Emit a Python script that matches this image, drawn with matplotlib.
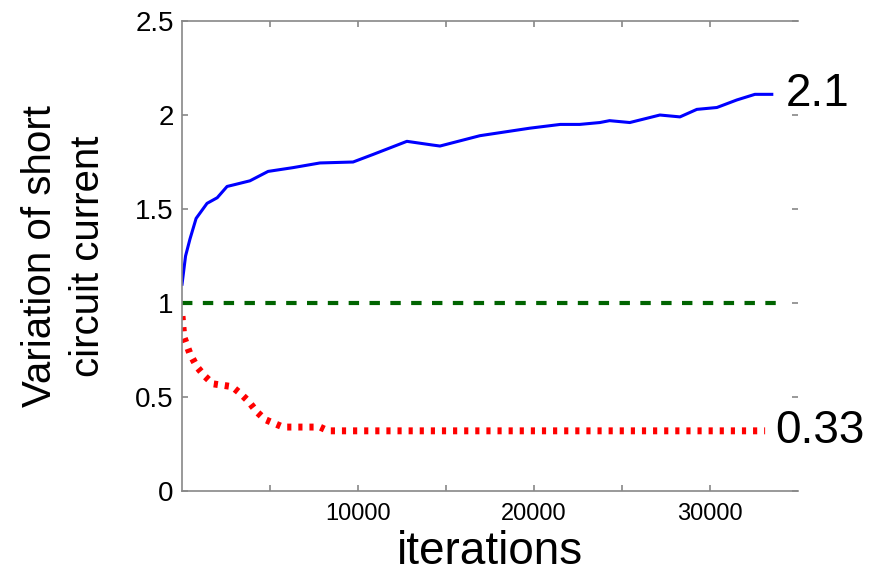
import numpy as np
import matplotlib
matplotlib.use('Agg')
import matplotlib.pyplot as plt

plt.rcParams['font.family'] = ['Liberation Sans', 'DejaVu Sans']

blue_x = [0, 200, 450, 800, 1420, 2000, 2560, 3000, 3860, 4890, 6300, 7840, 9720,
          10850, 12780, 14260, 14660, 16930, 19770, 21500, 22600, 23750, 24300,
          25450, 27160, 28300, 29260, 30400, 31530, 32560, 33520]
blue_y = [1.10, 1.25, 1.34, 1.45, 1.53, 1.56, 1.62, 1.63, 1.65, 1.70, 1.72, 1.745, 1.75,
          1.79, 1.86, 1.84, 1.835, 1.89, 1.93, 1.95, 1.95, 1.96, 1.97,
          1.96, 2.00, 1.99, 2.03, 2.04, 2.08, 2.11, 2.11]

red_x = [0, 100, 450, 850, 1300, 1760, 2840, 3300, 3750, 4260, 4720, 5740, 7840, 8300, 33140]
red_y = [0.93, 0.82, 0.73, 0.66, 0.61, 0.57, 0.555, 0.52, 0.48, 0.42, 0.38, 0.34, 0.34, 0.32, 0.32]

ref_x = [0, 33800]
ref_y = [1.0, 1.0]

fig = plt.figure(figsize=(8.71, 5.76), dpi=100)
ax = fig.add_axes([0.209, 0.1476, 0.707, 0.8159])

ax.plot(blue_x, blue_y, color='#0000ff', lw=2.2)
ax.plot(ref_x, ref_y, color='#006400', lw=3, linestyle=(0, (2.5, 2.5)))
ax.plot(red_x, red_y, color='#ff0000', lw=5, linestyle=(0, (0.6, 1.0)))

ax.set_xlim(0, 35000)
ax.set_ylim(0, 2.5)
ax.set_xticks(np.arange(5000, 35000, 5000))
ax.set_xticklabels(['' if t % 10000 else str(t) for t in range(5000, 35000, 5000)])
ax.set_yticks([0, 0.5, 1, 1.5, 2, 2.5])
ax.set_yticklabels(['0', '0.5', '1', '1.5', '2', '2.5'])

for s in ['left', 'bottom', 'top']:
    ax.spines[s].set_color('#888888')
    ax.spines[s].set_linewidth(1.2)
ax.spines['right'].set_visible(False)
ax.tick_params(axis='both', direction='in', color='#888888', length=4, width=1.2,
               top=True, right=True)
ax.tick_params(axis='y', labelsize=20, pad=6)
ax.tick_params(axis='x', labelsize=17, pad=9)

ax.set_xlabel('iterations', fontsize=33)
ax.xaxis.set_label_coords(0.5, -0.083)
ax.set_ylabel('Variation of short\ncircuit current', fontsize=29, labelpad=20, linespacing=1.35)

ax.text(34300, 2.11, '2.1', fontsize=33, va='center', ha='left', clip_on=False)
ax.text(33700, 0.32, '0.33', fontsize=33, va='center', ha='left', clip_on=False)

fig.savefig('out.png', dpi=100)
